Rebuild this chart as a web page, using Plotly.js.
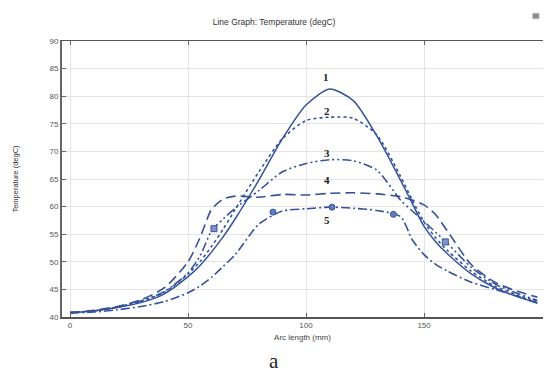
<!DOCTYPE html>
<html>
<head>
<meta charset="utf-8">
<script src="https://cdn.plot.ly/plotly-3.0.1.min.js"></script>
<style>html,body{margin:0;padding:0;background:#fff;}#chart{width:546px;height:374px;}</style>
</head>
<body>
<div id="chart"></div>
<script>
// Arc length positions (mm)
const arcLength = [0,10,20,30,40,50,55,60,65,70,80,90,100,110,120,130,140,145,150,155,160,170,180,190,198];
// Temperature series (degC)
const temp1 = [40.8,41.1,41.7,42.6,44.2,47.3,49.3,51.8,54.6,57.8,64.8,72.3,78.4,81.3,79.2,72.8,64.8,60.6,56.4,53.6,51.4,47.8,45.3,43.6,42.5];
const temp2 = [40.8,41.1,41.8,42.8,44.5,47.8,50.0,52.8,56.0,59.5,66.3,72.3,75.6,76.2,76.0,73.0,65.5,61.2,57.2,54.3,52.0,48.3,45.6,43.9,42.8];
const temp3 = [40.8,41.1,41.8,42.9,44.6,48.0,51.0,55.6,57.8,59.7,62.9,66.3,67.8,68.5,68.3,66.6,61.2,59.2,57.3,55.3,53.3,49.0,46.0,44.2,43.0];
const temp4 = [40.8,41.2,41.9,43.1,45.3,50.0,54.3,59.5,61.4,61.9,61.7,62.2,62.1,62.4,62.5,62.3,61.8,61.2,60.3,58.5,55.5,49.5,46.3,44.6,43.6];
const temp5 = [40.7,40.9,41.3,41.9,42.8,44.4,45.6,47.2,49.2,51.3,56.8,59.2,59.6,59.9,59.7,59.3,58.2,54.0,51.3,49.5,48.3,46.3,45.0,43.7,42.6];
// marker points
const marks3X = [61,159];
const marks3Y = [56.0,53.6];
const marks5X = [86,111,137];
const marks5Y = [59.0,59.9,58.6];
// curve labels
const labelText = ['1','2','3','4','5'];
const labelX = [108.5,109,109,109,109];
const labelY = [83.4,77.4,69.8,64.9,57.6];

const C = '#34529c';
const mk = (y, dash, w) => ({x: arcLength, y: y, type:'scatter', mode:'lines',
  line:{color:C, width:w||1.5, dash:dash, shape:'spline', smoothing:0.7}, hoverinfo:'skip'});
const data = [
  mk(temp1,'solid',1.5),
  mk(temp2,'dot',1.6),
  mk(temp3,'9px,3px,2px,3px,2px,3px',1.6),
  mk(temp4,'10px,5px',1.6),
  mk(temp5,'9px,3px,2px,3px',1.6),
  {x:marks3X, y:marks3Y, type:'scatter', mode:'markers', marker:{symbol:'square', size:6, color:'#7f95c8', line:{color:C,width:1}}},
  {x:marks5X, y:marks5Y, type:'scatter', mode:'markers', marker:{symbol:'circle', size:6, color:'#5f7cc4', line:{color:C,width:1}}}
];

const annotations = labelText.map((t,i)=>({x:labelX[i], y:labelY[i], xref:'x', yref:'y', text:'<b>'+t+'</b>', showarrow:false,
  font:{family:'Liberation Serif, Times New Roman, serif', size:11, color:'#222'}}));
annotations.push({xref:'paper', yref:'paper', x:0.441, y:-0.16, yanchor:'middle', text:'a', showarrow:false,
  font:{family:'Liberation Serif, serif', size:21, color:'#222'}});

const layout = {
  width:546, height:374,
  margin:{l:62, r:3, t:41, b:57},
  paper_bgcolor:'#fff', plot_bgcolor:'#fff',
  showlegend:false,
  title:{text:'Line Graph: Temperature (degC)', x:0.502, xanchor:'center', y:0.942, yanchor:'middle',
    font:{family:'Liberation Sans, Arial, sans-serif', size:8.5, color:'#333'}},
  xaxis:{range:[-3.4,200.4], tickvals:[0,50,100,150], ticks:'inside', ticklen:4, tickcolor:'#666',
    showline:true, linecolor:'#555', linewidth:1.5, mirror:'ticks', zeroline:false,
    showgrid:true, gridcolor:'#e4e4e4', gridwidth:1,
    tickfont:{family:'Liberation Sans, Arial, sans-serif', size:8, color:'#555'},
    title:{text:'Arc length (mm)', standoff:5, font:{family:'Liberation Sans, Arial, sans-serif', size:8, color:'#444'}}},
  yaxis:{range:[40,90], dtick:5, ticks:'inside', ticklen:4, tickcolor:'#666',
    showline:true, linecolor:'#666', linewidth:2, zeroline:false,
    showgrid:true, gridcolor:'#e4e4e4', gridwidth:1,
    tickfont:{family:'Liberation Sans, Arial, sans-serif', size:8, color:'#555'},
    title:{text:'Temperature (degC)', standoff:30, font:{family:'Liberation Sans, Arial, sans-serif', size:7.5, color:'#333'}}},
  yaxis2:{range:[40,90], dtick:5, overlaying:'y', side:'right', showticklabels:false, ticks:'inside', ticklen:3,
    tickcolor:'#aaa', showline:true, linecolor:'#c8c8c8', linewidth:1, showgrid:false, zeroline:false},
  annotations: annotations,
  shapes:[{type:'rect', xref:'paper', yref:'paper', x0:0.978, x1:0.992, y0:1.08, y1:1.101,
    fillcolor:'#8a8a8a', line:{color:'#cfcfcf', width:1}}]
};
Plotly.newPlot('chart', data, layout, {displayModeBar:false, staticPlot:true});
</script>
</body>
</html>
